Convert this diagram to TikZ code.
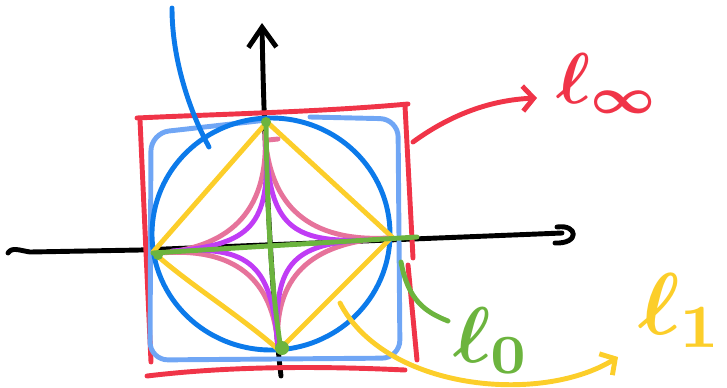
\documentclass[tikz,border=0pt]{standalone}
\usetikzlibrary{calc,arrows.meta}
\definecolor{cred}{RGB}{240,52,72}
\definecolor{clblue}{RGB}{112,166,245}
\definecolor{cblue}{RGB}{12,122,234}
\definecolor{cyellow}{RGB}{252,206,42}
\definecolor{cpink}{RGB}{230,115,155}
\definecolor{cpurple}{RGB}{192,60,245}
\definecolor{cgreen}{RGB}{108,180,62}
\tikzset{
  pen/.style={line width=2.8pt, line cap=round, line join=round},
  handarrow/.style={pen, -{Straight Barb[length=0.22cm, width=0.5cm, line width=2.8pt]}},
  labeltext/.style={inner sep=0pt, anchor=base west},
}
\begin{document}
\begin{tikzpicture}[x=0.02cm, y=-0.02cm]
\useasboundingbox (0,0) rectangle (727,387);
% key coordinates
\coordinate (O) at (271,244);
% axes
\coordinate (ytop) at (262,23);
\coordinate (ybot) at (281,376);
\coordinate (xleft) at (8,253);
\coordinate (xright) at (562,233);
\draw[pen, black, -{Straight Barb[length=0.4cm, width=0.56cm, line width=2.8pt]}]
  (ybot) .. controls (272,300) and (264,150) .. (ytop);
\draw[pen, black] (xleft) .. controls (12,247) and (18,250) .. (30,252)
  -- (140,250) -- (xright);
\draw[pen, black] (557,227) .. controls (578,224) and (580,244) .. (555,243);
% red square (l_infinity)
\draw[pen, cred] (137,118) .. controls (220,114) and (320,112) .. (408,104);
\draw[pen, cred] (140,120) -- (151,362);
\draw[pen, cred] (405,106) -- (413,258);
\draw[pen, cred] (408,265) -- (417,360);
\draw[pen, cred] (147,376) .. controls (230,366) and (320,366) .. (405,370);
% light blue rounded square
\draw[pen, clblue, rounded corners=0.36cm]
  (310,117) -- (398,119) -- (400,358) -- (150,360) -- (151,133) -- (267,120);
% blue circle (l_2)
\draw[pen, cblue] (271,234) ellipse [x radius=119, y radius=116];
\draw[pen, cblue] (172,8) .. controls (172,60) and (190,112) .. (209,147);
% yellow diamond (l_1)
\coordinate (yT) at (267,122);
\coordinate (yR) at (392,237);
\coordinate (yB) at (279,350);
\coordinate (yL) at (153,252);
\draw[pen, cyellow] (yT) -- (yR) -- (yB) .. controls (235,312) and (190,285) .. (yL) -- cycle;
% pink (p = 1/2)
\coordinate (pT) at (265,133);
\coordinate (pR) at (388,238);
\coordinate (pB) at (278,347);
\coordinate (pL) at (160,253);
\draw[pen, cpink]
  (pT) .. controls ($(pT)!0.667!(O)$) and ($(pR)!0.667!(O)$) .. (pR)
       .. controls ($(pR)!0.667!(O)$) and ($(pB)!0.667!(O)$) .. (pB)
       .. controls ($(pB)!0.667!(O)$) and ($(pL)!0.667!(O)$) .. (pL)
       .. controls ($(pL)!0.667!(O)$) and ($(pT)!0.667!(O)$) .. (pT);
\draw[pen, cpink] (268,140) -- (278,139);
% purple (p < 1/2)
\coordinate (uT) at (266,145);
\coordinate (uR) at (368,240);
\coordinate (uB) at (278,350);
\coordinate (uL) at (172,251);
\draw[pen, cpurple]
  (uT) .. controls ($(uT)!0.8!(O)$) and ($(uR)!0.8!(O)$) .. (uR)
       .. controls ($(uR)!0.8!(O)$) and ($(uB)!0.8!(O)$) .. (uB)
       .. controls ($(uB)!0.8!(O)$) and ($(uL)!0.8!(O)$) .. (uL)
       .. controls ($(uL)!0.8!(O)$) and ($(uT)!0.8!(O)$) .. (uT);
% green cross (l_0)
\draw[pen, cgreen] (266,120) .. controls (267,200) and (270,280) .. (281,350);
\draw[pen, cgreen] (153,253) -- (417,237);
\fill[cgreen] (282,348) circle [radius=7];
\fill[cgreen] (158,255) circle [radius=5];
\fill[cgreen] (266,122) circle [radius=5];
% labels
\node[labeltext, text=cred] (linf) at (556,103) {\scalebox{4.1}{\boldmath$\ell_\infty$}};
\node[labeltext, text=cgreen] (lzero) at (453,362) {\scalebox{4.5}{\boldmath$\ell_0$}};
\node[labeltext, text=cyellow] (lone) at (638,334) {\scalebox{5}{\boldmath$\ell_1$}};
% pointers
\coordinate (ra) at (413,142);
\coordinate (rb) at (537,98);
\draw[handarrow, cred] (ra) .. controls (450,115) and (490,100) .. (rb);
\coordinate (ga) at (401,262);
\coordinate (gb) at (448,321);
\draw[pen, cgreen] (ga) .. controls (408,300) and (425,312) .. (gb);
\coordinate (ya) at (340,303);
\coordinate (yb) at (618,357);
\draw[handarrow, cyellow] (ya) .. controls (385,390) and (540,405) .. (yb);
\end{tikzpicture}
\end{document}
